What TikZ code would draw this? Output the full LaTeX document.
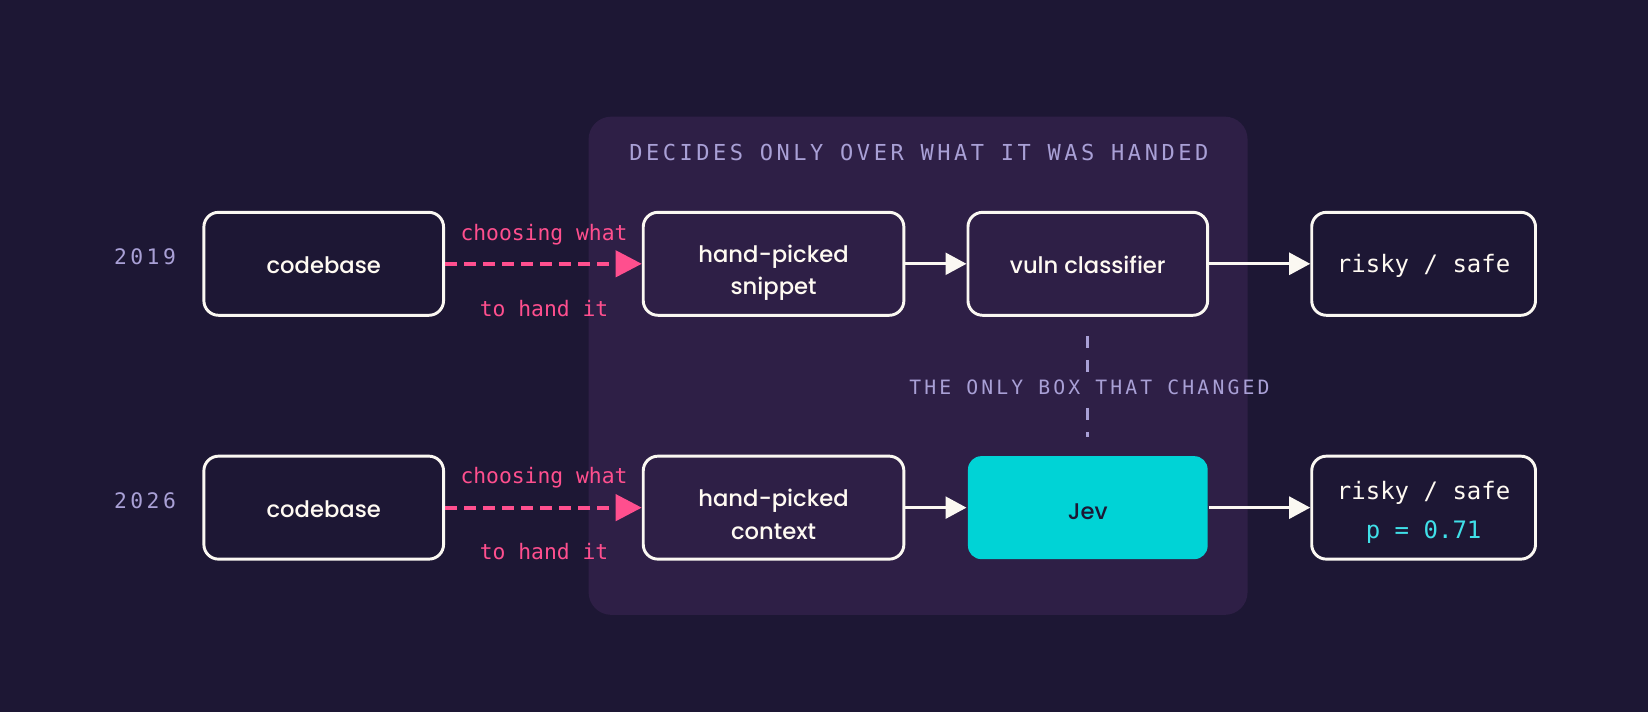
\documentclass[tikz,border=0pt]{standalone}
\usepackage{fontspec}
\setmainfont{Poppins}
\newfontfamily\boxfont{Poppins Medium}
\newfontfamily\monofont{DejaVu Sans Mono}
\newfontfamily\capsfont{DejaVu Sans Mono}[LetterSpace=16]
\usetikzlibrary{arrows.meta}
\definecolor{bg}{HTML}{1D1734}
\definecolor{panel}{HTML}{2E1F46}
\definecolor{lav}{HTML}{A9A0D6}
\definecolor{boxline}{HTML}{FBF8F2}
\definecolor{boxtext}{HTML}{FFFAF2}
\definecolor{pinkc}{HTML}{FF4F8E}
\definecolor{cyanbox}{HTML}{00D3D6}
\definecolor{cyantext}{HTML}{40E0E8}
\tikzset{
  box/.style={draw=boxline, line width=2.2pt, rounded corners=11pt, minimum height=77.2pt, inner sep=0pt},
  wA/.style={minimum width=179.7pt},
  wB/.style={minimum width=195.4pt},
  wD/.style={minimum width=167.8pt},
  jevbox/.style={fill=cyanbox, line width=2.2pt, rounded corners=10pt, minimum height=77.2pt, minimum width=179.7pt, inner sep=0pt},
  boxtxt/.style={text=boxtext, font=\boxfont\fontsize{17}{20}\selectfont, inner sep=0pt, anchor=base},
  jevtxt/.style={text=bg, font=\boxfont\fontsize{17}{20}\selectfont, inner sep=0pt, anchor=base},
  monotxt/.style={text=boxtext, font=\monofont\fontsize{18}{21}\selectfont, inner sep=0pt, anchor=base},
  pinktxt/.style={text=pinkc, font=\monofont\fontsize{16}{19}\selectfont, inner sep=0pt, anchor=base},
  yeartxt/.style={text=lav, font=\capsfont\fontsize{16}{19}\selectfont, inner sep=0pt, anchor=base},
  titletxt/.style={text=lav, font=\capsfont\fontsize{16.5}{19}\selectfont, inner sep=0pt, anchor=base},
  subtxt/.style={text=lav, font=\capsfont\fontsize{14.8}{17}\selectfont, inner sep=0pt, anchor=base},
  pinkarrow/.style={draw=pinkc, line width=3pt, dash pattern=on 9pt off 5.25pt, -{Triangle[length=19.7pt, width=19.7pt]}},
  whitearrow/.style={draw=boxline, line width=2.5pt, -{Triangle[length=15.75pt, width=16.3pt]}},
  vdash/.style={draw=lav, line width=2.5pt, dash pattern=on 9pt off 9pt on 9pt off 27pt on 9pt off 9pt on 9pt off 9pt, shorten <=14.4pt, shorten >=13.2pt}
}
\begin{document}
\begin{tikzpicture}[x=0.788pt, y=-0.788pt]
\useasboundingbox (0,0) rectangle (1568,677.5);
\fill[bg] (0,0) rectangle (1568,677.5);
% panel
\fill[panel, rounded corners=17pt] (560,111) rectangle (1187,585);
\node[titletxt] (title) at (874.2,153) {DECIDES ONLY OVER WHAT IT WAS HANDED};

% row 1
\node[yeartxt] (y1) at (138,252) {2019};
\node[box, wA] (A1) at (308,251) {};
\node[box, wB] (B1) at (736,251) {};
\node[box, wA] (C1) at (1035,251) {};
\node[box, wD] (D1) at (1354.5,251) {};
\node[boxtxt] (tA1) at (308,260) {codebase};
\node[boxtxt] (tB1a) at (736,249.6) {hand-picked};
\node[boxtxt] (tB1b) at (736,280) {snippet};
\node[boxtxt] (tC1) at (1035,260.5) {vuln classifier};
\node[monotxt] (tD1) at (1354.5,259.5) {risky / safe};
\node[pinktxt] (p1a) at (517.6,228.4) {choosing what};
\node[pinktxt] (p1b) at (517.6,300.7) {to hand it};

% row 2
\node[yeartxt] (y2) at (138,484) {2026};
\node[box, wA] (A2) at (308,483) {};
\node[box, wB] (B2) at (736,483) {};
\node[jevbox] (C2) at (1035,483) {};
\node[box, wD] (D2) at (1354.5,483) {};
\node[boxtxt] (tA2) at (308,492) {codebase};
\node[boxtxt] (tB2a) at (736,482) {hand-picked};
\node[boxtxt] (tB2b) at (736,513) {context};
\node[jevtxt] (tC2) at (1035,494) {Jev};
\node[monotxt] (tD2a) at (1354.5,475.7) {risky / safe};
\node[monotxt, text=cyantext] (tD2b) at (1354.5,512.8) {p = 0.71};
\node[pinktxt] (p2a) at (517.6,460.4) {choosing what};
\node[pinktxt] (p2b) at (517.6,532.7) {to hand it};

% connectors
\draw[pinkarrow] (A1.east) -- (B1.west);
\draw[whitearrow] (B1.east) -- (C1.west);
\draw[whitearrow] (C1.east) -- (D1.west);
\draw[pinkarrow] (A2.east) -- (B2.west);
\draw[whitearrow] (B2.east) -- (C2.west);
\draw[whitearrow] (C2.east) -- (D2.west);
\draw[vdash] (C1.south) -- (C2.north);
\node[subtxt] (sub) at (1036.5,375) {THE ONLY BOX THAT CHANGED};
\end{tikzpicture}
\end{document}
